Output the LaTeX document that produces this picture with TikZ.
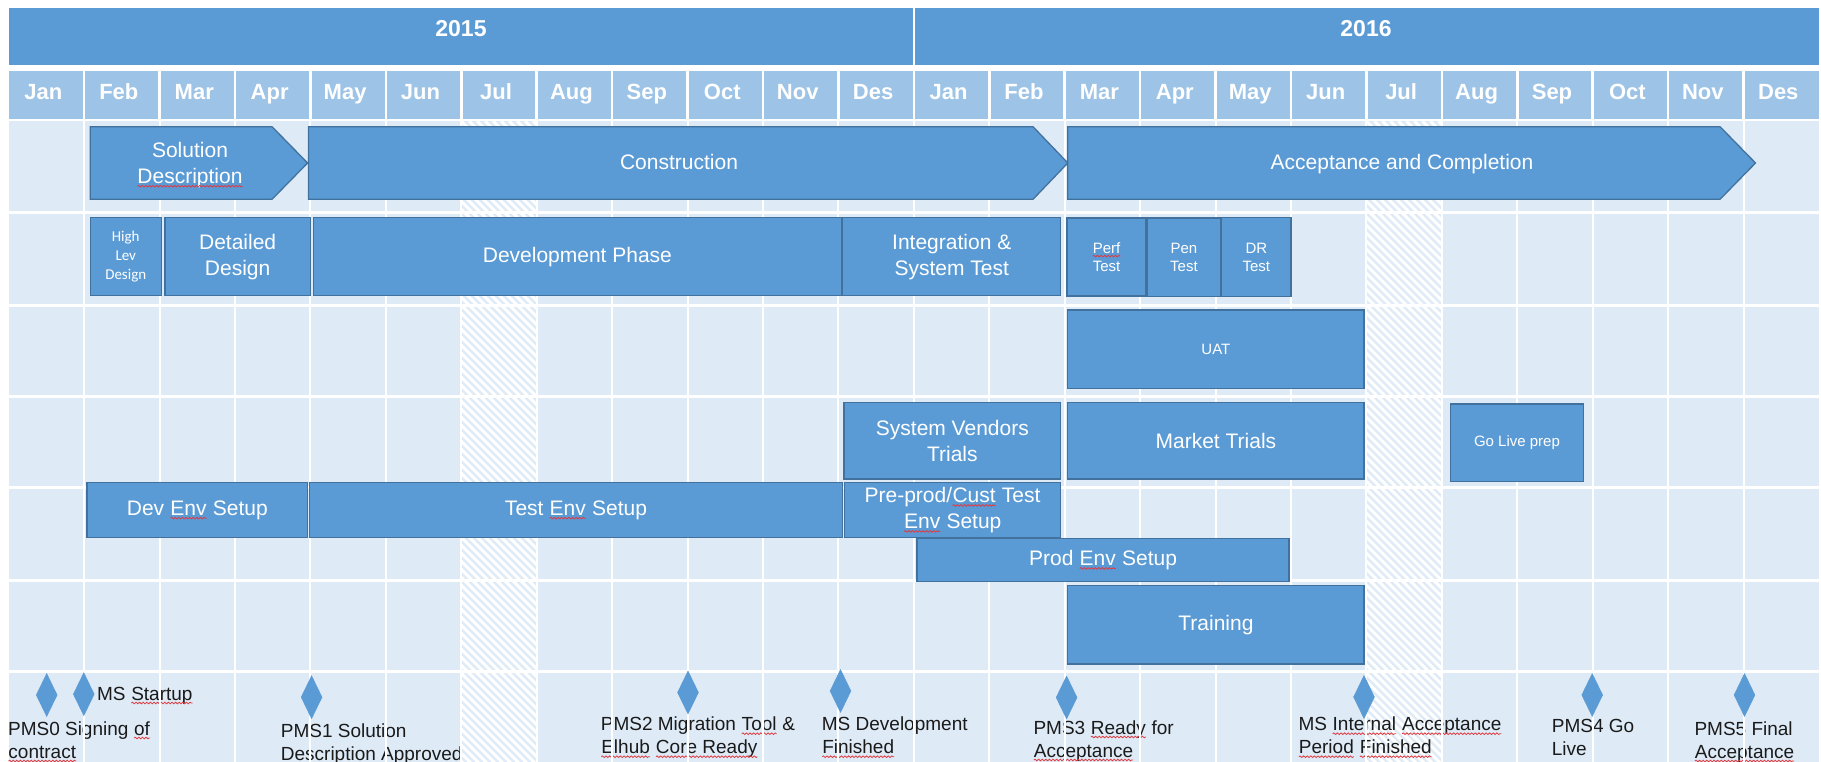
\documentclass[tikz,border=0pt]{standalone}
\usepackage{fontspec}
\setmainfont{Liberation Sans}
\newfontfamily\calfont{Carlito}
\usetikzlibrary{decorations.pathmorphing,shapes.geometric}
\definecolor{yearblue}{HTML}{5B9BD5}
\definecolor{headblue}{HTML}{9DC3E6}
\definecolor{bgblue}{HTML}{DEEBF7}
\definecolor{barblue}{HTML}{5B9BD5}
\definecolor{barline}{HTML}{41719C}
\definecolor{mstext}{HTML}{1A1A1A}
\definecolor{squigred}{HTML}{E0393E}
\newcommand\sq[1]{\tikz[baseline=(sqw.base)]{\node[shape=rectangle,inner sep=0pt,outer sep=0pt,minimum width=0pt,minimum height=0pt,draw=none,fill=none,anchor=base] (sqw) {#1};\draw[squigred,fill=none,line width=0.8pt,decorate,decoration={snake,amplitude=0.8pt,segment length=3.6pt}] ([yshift=-3pt]sqw.base west) -- ([yshift=-3pt]sqw.base east);}}
\newcommand\twol[2]{\vtop{\baselineskip=23pt\hbox{#1}\hbox{#2}}}
\newcommand\bx[7]{\node[bar,#6,minimum width={#4-#2},minimum height={#5-#3}] (#1) at ({(#2+#4)/2},{(#3+#5)/2}) {#7};}
\newcommand\colx[1]{8.7+75.43*#1}
\begin{document}
\begin{tikzpicture}[x=1pt,y=-1pt,
  bar/.style={draw=barline,fill=barblue,line width=1.3pt,text=white,inner sep=0pt,outer sep=0pt,align=center,font=\fontsize{21}{26}\selectfont},
  smalltxt/.style={font=\fontsize{15}{18.5}\selectfont},
  caltxt/.style={font=\calfont\fontsize{15}{19}\selectfont},
  phasetxt/.style={text=white,inner sep=0pt,align=center,font=\fontsize{21}{26}\selectfont},
  mstone/.style={shape=diamond,fill=barblue,draw=barblue,line width=0.5pt,inner sep=0pt,minimum width=21pt,minimum height=43pt},
  mslabel/.style={text=mstext,inner sep=0pt,anchor=base west,font=\fontsize{19}{23}\selectfont},
  month/.style={text=white,inner sep=0pt,anchor=base,font=\bfseries\fontsize{22}{26}\selectfont},
  year/.style={text=white,inner sep=0pt,anchor=base,font=\bfseries\fontsize{23}{27}\selectfont},
  gridv/.style={white,line width=2pt},
  gridh/.style={white,line width=3pt}]
\useasboundingbox[fill=white] (0,0) rectangle (1821,762);
% ---------- header ----------
\fill[yearblue] (8.7,8.3) rectangle (1818.8,65);
\draw[white,line width=2.5pt] ({\colx{12}},8.3) -- ({\colx{12}},65);
\fill[headblue] (8.7,71) rectangle (1818.8,119.3);
\foreach \i in {1,...,23} \draw[white,line width=2.5pt] ({\colx{\i}},71) -- ({\colx{\i}},119.3);
\node[year] (y2015) at (461,36.7) {2015};
\node[year] (y2016) at (1366,36.7) {2016};
\foreach \m [count=\i from 0] in {Jan,Feb,Mar,Apr,May,Jun,Jul,Aug,Sep,Oct,Nov,Des,Jan,Feb,Mar,Apr,May,Jun,Jul,Aug,Sep,Oct,Nov,Des}
  \node[month] (mon\i) at ({\colx{\i}+37.7-3},99.5) {\m};
% ---------- body background ----------
\fill[bgblue] (8.7,121.3) rectangle (1818.8,762);
\foreach \c in {6,18} {
  \begin{scope}
    \clip ({\colx{\c}},121.3) rectangle ({\colx{\c}+75.43},762);
    \foreach \k in {-85,...,12} \draw[white,line width=3pt] ({\colx{\c}+8*\k},121.3) -- ++(700,700);
  \end{scope}
}
% ---------- milestone labels ----------
\node[mslabel] (m0) at (7.9,735) {\twol{PMS0 Signing \sq{of}}{\sq{contract}}};
\node[mslabel] (m1) at (96.9,700) {MS \sq{Startup}};
\node[mslabel] (m2) at (280.7,737.3) {\twol{PMS1 Solution}{Description Approved}};
\node[mslabel] (m3) at (600.7,730.7) {\twol{PMS2 Migration \sq{Tool} \&}{\sq{Elhub} \sq{Core Ready}}};
\node[mslabel] (m4) at (821.7,730.7) {\twol{MS Development}{\sq{Finished}}};
\node[mslabel] (m5) at (1033.3,734) {\twol{PMS3 \sq{Ready} for}{\sq{Acceptance}}};
\node[mslabel] (m6) at (1298.3,730.7) {\twol{MS \sq{Internal} \sq{Acceptance}}{\sq{Period} \sq{Finished}}};
\node[mslabel] (m7) at (1551.7,732.7) {\twol{PMS4 Go}{Live}};
\node[mslabel] (m8) at (1694.3,735) {\twol{PMS5 Final}{\sq{Acceptance}}};
% ---------- grid ----------
\foreach \i in {1,...,23} \draw[gridv] ({\colx{\i}},121.3) -- ({\colx{\i}},762);
\foreach \yy in {212.3,305,396.7,487.7,580,671.7} \draw[gridh] (8.7,\yy) -- (1818.8,\yy);
% ---------- phases ----------
\path[bar] (90.2,126.7) -- (272,126.7) -- (307.6,163) -- (272,199.3) -- (90.2,199.3) -- cycle;
\node[phasetxt] (soldesc) at (190,164.8) {Solution\\\sq{Description}};
\path[bar] (308.4,126.7) -- (1033,126.7) -- (1067.8,163) -- (1033,199.3) -- (308.4,199.3) -- cycle;
\node[phasetxt,anchor=base] (constr) at (679,170) {Construction};
\path[bar] (1067.8,126.7) -- (1720,126.7) -- (1755.5,163) -- (1720,199.3) -- (1067.8,199.3) -- cycle;
\node[phasetxt,anchor=base] (accept) at (1402,170) {Acceptance and Completion};
% ---------- activities ----------
\bx{hld}{90.2}{217.7}{161.3}{295.7}{caltxt}{High\\Lev\\Design}
\bx{dd}{164.9}{217.7}{310.4}{295.7}{}{Detailed\\Design}
\bx{dev}{313.6}{217.7}{841.2}{295.7}{}{Development Phase}
\bx{integ}{842.8}{217.7}{1060.7}{295.7}{}{Integration \&\\System Test}
\bx{perf}{1067}{218}{1146}{296}{smalltxt}{\sq{Perf}\\Test}
\bx{pen}{1146.9}{218}{1221}{296.7}{smalltxt}{Pen\\Test}
\bx{dr}{1221.7}{217.7}{1291}{296.7}{smalltxt}{DR\\Test}
\bx{uat}{1067.8}{310}{1364}{388.3}{smalltxt}{UAT}
\bx{svt}{844}{402.3}{1060.7}{479}{}{System Vendors\\Trials}
\bx{market}{1067.8}{402.3}{1364}{479}{}{Market Trials}
\bx{golive}{1450.7}{404}{1583.2}{481.7}{smalltxt}{Go Live prep}
\bx{devenv}{87}{482.7}{307.6}{537.3}{}{Dev \sq{Env} Setup}
\bx{testenv}{309.6}{482.7}{842.4}{537.3}{}{Test \sq{Env} Setup}
\bx{preprod}{844.4}{482.7}{1060.7}{537.3}{}{Pre-prod/\sq{Cust} Test\\\sq{Env} Setup}
\bx{prodenv}{917.1}{538.3}{1289}{581.7}{}{Prod \sq{Env} Setup}
\bx{training}{1067.8}{585.7}{1364}{664}{}{Training}
% ---------- milestones ----------
\node[mstone] (d0) at (46.7,695) {};
\node[mstone] (d1) at (83.8,694.2) {};
\node[mstone] (d2) at (311.6,697.2) {};
\node[mstone] (d3) at (688,692.5) {};
\node[mstone] (d4) at (840.5,691) {};
\node[mstone] (d5) at (1066.6,697.5) {};
\node[mstone] (d6) at (1364,697) {};
\node[mstone] (d7) at (1592.2,695) {};
\node[mstone] (d8) at (1744.5,695) {};
\end{tikzpicture}
\end{document}
